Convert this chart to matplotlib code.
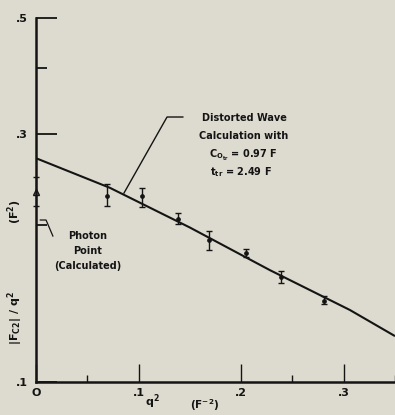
import matplotlib
matplotlib.use("Agg")
import matplotlib.pyplot as plt
from matplotlib.ticker import FixedLocator, NullFormatter

# measured points: q^2 (F^-2) and |F_C2|/q^2 (F^2) with error bar limits
q2_pts = [0.069, 0.103, 0.138, 0.169, 0.205, 0.239, 0.281]
f_pts = [0.228, 0.228, 0.206, 0.187, 0.177, 0.159, 0.143]
f_hi = [0.240, 0.236, 0.211, 0.195, 0.180, 0.163, 0.146]
f_lo = [0.218, 0.217, 0.201, 0.179, 0.174, 0.155, 0.141]

# distorted wave calculation curve
q2_calc = [0.0, 0.072, 0.150, 0.228, 0.306, 0.350]
f_calc = [0.269, 0.236, 0.198, 0.164, 0.1375, 0.1225]

# photon point (calculated)
q2_photon = [0.0]
f_photon = [0.232]
f_photon_hi = [0.248]
f_photon_lo = [0.218]

bg = '#dddacf'
ink = '#141414'

fig = plt.figure(figsize=(3.95, 4.15), dpi=100, facecolor=bg)
ax = fig.add_axes([36/395, 1 - 382/415, 359/395, 364/415], facecolor=bg)

ax.set_yscale('log')
ax.set_xlim(0, 0.35)
ax.set_ylim(0.1, 0.5)

ax.plot(q2_calc, f_calc, color=ink, lw=1.5, solid_capstyle='butt')

yerr = [[f - lo for f, lo in zip(f_pts, f_lo)], [hi - f for f, hi in zip(f_pts, f_hi)]]
ax.errorbar(q2_pts, f_pts, yerr=yerr, fmt='o', ms=2.4, color=ink,
            ecolor=ink, elinewidth=1.0, capsize=2.5, capthick=1.0)

perr = [[f - lo for f, lo in zip(f_photon, f_photon_lo)],
        [hi - f for f, hi in zip(f_photon, f_photon_hi)]]
ax.errorbar(q2_photon, f_photon, yerr=perr, fmt='^', ms=5, mfc='none', mec=ink,
            mew=1.0, ecolor=ink, elinewidth=0.9, capsize=2, clip_on=False)

for s in ['top', 'right']:
    ax.spines[s].set_visible(False)
for s in ['left', 'bottom']:
    ax.spines[s].set_linewidth(1.8)
    ax.spines[s].set_color(ink)

tfont = dict(fontsize=8, fontweight='bold', color=ink)

ax.yaxis.set_major_locator(FixedLocator([0.1, 0.3, 0.5]))
ax.yaxis.set_minor_locator(FixedLocator([0.2, 0.4]))
ax.yaxis.set_minor_formatter(NullFormatter())
ax.set_yticklabels(['.1', '.3', '.5'], **tfont)
ax.xaxis.set_major_locator(FixedLocator([0, 0.1, 0.2, 0.3]))
ax.xaxis.set_minor_locator(FixedLocator([0.05, 0.25, 0.35]))
ax.set_xticklabels(['O', '.1', '.2', '.3'], **tfont)

ax.tick_params(axis='y', which='major', direction='in', length=15, width=1.3, pad=6, colors=ink)
ax.tick_params(axis='y', which='minor', direction='in', length=8, width=1.3, colors=ink)
ax.tick_params(axis='x', which='major', direction='in', length=13, width=1.0, pad=4, colors=ink)
ax.tick_params(axis='x', which='minor', direction='in', length=5, width=1.0, colors=ink)

# annotation for the calculation curve
ax.plot([0.245, 0.365, 0.409], [0.519, 0.728, 0.728], color=ink, lw=1.0,
        transform=ax.transAxes)
afont = dict(fontsize=7, fontweight='bold', color=ink, ha='center', va='center',
             transform=ax.transAxes)
ax.text(0.58, 0.725, 'Distorted Wave', **afont)
ax.text(0.578, 0.676, 'Calculation with', **afont)
ax.text(0.578, 0.622, r'C$_{\mathregular{O_{tr}}}$ = 0.97 F', **afont)
ax.text(0.572, 0.578, r't$_{\mathregular{tr}}$ = 2.49 F', **afont)

# annotation for the photon point
ax.plot([0.047, 0.028, 0.012], [0.401, 0.445, 0.445], color=ink, lw=0.9,
        transform=ax.transAxes)
ax.text(0.145, 0.401, 'Photon', **afont)
ax.text(0.145, 0.360, 'Point', **afont)
ax.text(0.145, 0.319, '(Calculated)', **afont)

# axis titles
fig.text(0.038, 0.234, r'|F$_{\mathregular{C2}}$| / q$^{\mathregular{2}}$', rotation=90,
         ha='center', va='center', fontsize=8, fontweight='bold', color=ink)
fig.text(0.038, 0.489, r'(F$^{\mathregular{2}}$)', rotation=90,
         ha='center', va='center', fontsize=8, fontweight='bold', color=ink)
fig.text(0.387, 0.033, r'q$^{\mathregular{2}}$', ha='center', va='center',
         fontsize=8, fontweight='bold', color=ink)
fig.text(0.519, 0.024, r'(F$^{\mathregular{-2}}$)', ha='center', va='center',
         fontsize=7.5, fontweight='bold', color=ink)

fig.savefig('out.png', dpi=100, facecolor=bg)
